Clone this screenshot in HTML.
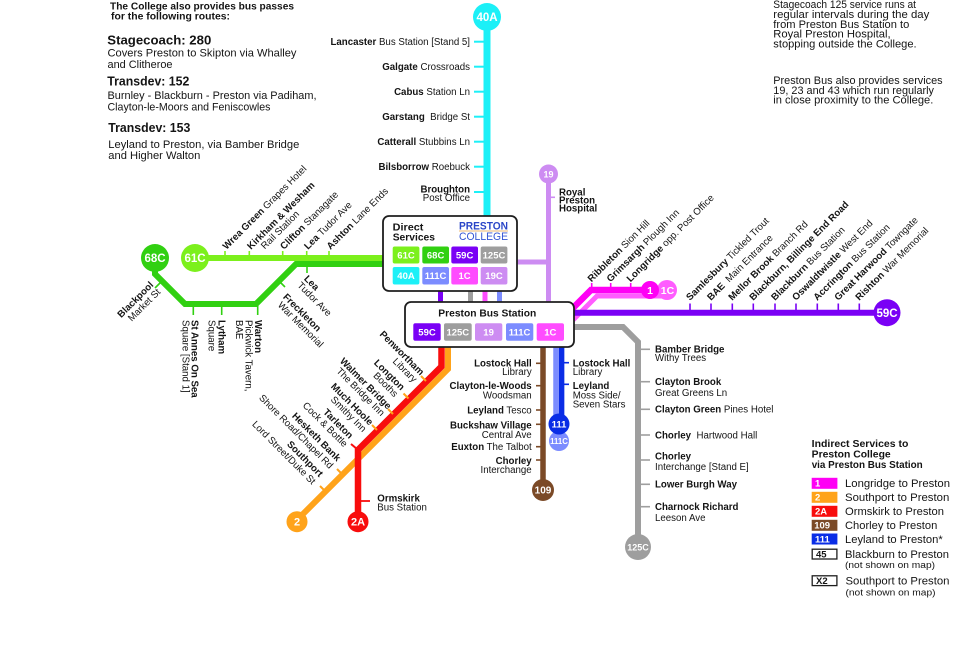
<!DOCTYPE html>
<html><head><meta charset="utf-8"><style>
html,body{margin:0;padding:0;background:#fff;}
svg{display:block;font-family:"Liberation Sans",Arial,sans-serif;}
.s{font-size:9.7px;fill:#141414;}
.b{font-weight:bold;}
.w{fill:#fff;font-weight:bold;text-anchor:middle;}
.e{text-anchor:end;}
</style></head><body>
<svg width="980" height="666" viewBox="0 0 980 666" xmlns="http://www.w3.org/2000/svg">
<rect width="980" height="666" fill="#fff"/>

<!-- Top-left text -->
<g fill="#141414">
<text x="110" y="9.6" font-size="10" font-weight="bold" textLength="184" lengthAdjust="spacingAndGlyphs">The College also provides bus passes</text>
<text x="111" y="19.6" font-size="10" font-weight="bold" textLength="119" lengthAdjust="spacingAndGlyphs">for the following routes:</text>
<text x="107.3" y="44.7" font-size="13" font-weight="bold" textLength="104" lengthAdjust="spacingAndGlyphs">Stagecoach: 280</text>
<text x="107.5" y="56.6" font-size="11" textLength="189" lengthAdjust="spacingAndGlyphs">Covers Preston to Skipton via Whalley</text>
<text x="107.5" y="68" font-size="11" textLength="65" lengthAdjust="spacingAndGlyphs">and Clitheroe</text>
<text x="107.3" y="85.4" font-size="13" font-weight="bold" textLength="82" lengthAdjust="spacingAndGlyphs">Transdev: 152</text>
<text x="107.5" y="99" font-size="11" textLength="209" lengthAdjust="spacingAndGlyphs">Burnley - Blackburn - Preston via Padiham,</text>
<text x="107.5" y="110.6" font-size="11" textLength="163" lengthAdjust="spacingAndGlyphs">Clayton-le-Moors and Feniscowles</text>
<text x="108.3" y="132" font-size="13" font-weight="bold" textLength="82" lengthAdjust="spacingAndGlyphs">Transdev: 153</text>
<text x="108.3" y="148" font-size="11" textLength="191" lengthAdjust="spacingAndGlyphs">Leyland to Preston, via Bamber Bridge</text>
<text x="108.3" y="159" font-size="11" textLength="92" lengthAdjust="spacingAndGlyphs">and Higher Walton</text>
</g>

<!-- Top-right text -->
<g fill="#141414" font-size="11">
<text x="773.3" y="8" textLength="142.7" lengthAdjust="spacingAndGlyphs">Stagecoach 125 service runs at</text>
<text x="773.3" y="18" textLength="156" lengthAdjust="spacingAndGlyphs">regular intervals during the day</text>
<text x="773.3" y="28" textLength="136" lengthAdjust="spacingAndGlyphs">from Preston Bus Station to</text>
<text x="773.3" y="37.3" textLength="117.3" lengthAdjust="spacingAndGlyphs">Royal Preston Hospital,</text>
<text x="773.3" y="47.3" textLength="143.3" lengthAdjust="spacingAndGlyphs">stopping outside the College.</text>
<text x="773.3" y="84" textLength="169.3" lengthAdjust="spacingAndGlyphs">Preston Bus also provides services</text>
<text x="773.3" y="94" textLength="160.7" lengthAdjust="spacingAndGlyphs">19, 23 and 43 which run regularly</text>
<text x="773.3" y="103.3" textLength="160" lengthAdjust="spacingAndGlyphs">in close proximity to the College.</text>
</g>

<!-- ===== LINES ===== -->
<!-- 40A cyan -->
<line x1="487" y1="17" x2="487" y2="218" stroke="#1cf0f7" stroke-width="7"/>
<g stroke="#1cf0f7" stroke-width="2">
<line x1="474" y1="41.7" x2="487" y2="41.7"/>
<line x1="474" y1="66.7" x2="487" y2="66.7"/>
<line x1="474" y1="91.7" x2="487" y2="91.7"/>
<line x1="474" y1="116.7" x2="487" y2="116.7"/>
<line x1="474" y1="141.7" x2="487" y2="141.7"/>
<line x1="474" y1="166.7" x2="487" y2="166.7"/>
<line x1="474" y1="192" x2="487" y2="192"/>
</g>

<!-- 61C light green -->
<line x1="195" y1="258" x2="386" y2="258" stroke="#7cf01c" stroke-width="6"/>
<g stroke="#7cf01c" stroke-width="1.6">
<line x1="225" y1="251" x2="225" y2="258"/>
<line x1="249.3" y1="251" x2="249.3" y2="258"/>
<line x1="282.7" y1="251" x2="282.7" y2="258"/>
<line x1="306.7" y1="251" x2="306.7" y2="258"/>
<line x1="329" y1="251" x2="329" y2="258"/>
</g>

<!-- 68C dark green -->
<path d="M155,258 L155,274 L185,304 L256,304 L296,264 L386,264" fill="none" stroke="#31d011" stroke-width="6"/>
<g stroke="#31d011" stroke-width="1.6">
<line x1="193.3" y1="304" x2="193.3" y2="315"/>
<line x1="221.7" y1="304" x2="221.7" y2="315"/>
<line x1="257.7" y1="304" x2="257.7" y2="315"/>
<line x1="307" y1="264" x2="307" y2="273"/>
<line x1="161" y1="282" x2="155" y2="288"/>
<line x1="280" y1="282" x2="285" y2="287"/>
</g>

<!-- connectors between boxes -->
<line x1="440.5" y1="288" x2="440.5" y2="304" stroke="#7a00f5" stroke-width="5"/>
<line x1="470.5" y1="288" x2="470.5" y2="304" stroke="#9e9e9e" stroke-width="5"/>
<line x1="485" y1="288" x2="485" y2="304" stroke="#ff4cff" stroke-width="5"/>
<line x1="499.5" y1="288" x2="499.5" y2="304" stroke="#7c8cff" stroke-width="5"/>

<!-- 19 lilac -->
<line x1="515" y1="262" x2="551" y2="262" stroke="#cd8cf2" stroke-width="5"/>
<line x1="548.5" y1="174" x2="548.5" y2="304" stroke="#cd8cf2" stroke-width="5"/>
<line x1="548.5" y1="197.3" x2="555" y2="197.3" stroke="#cd8cf2" stroke-width="1.6"/>

<!-- 1C pink and 1 magenta -->
<path d="M560,333 L597,296 L667,296" fill="none" stroke="#ff5cff" stroke-width="5"/>
<path d="M555,326 L591,290 L650,290" fill="none" stroke="#ff00f5" stroke-width="6.5"/>
<g stroke="#ff00f5" stroke-width="1.6">
<line x1="591.7" y1="283" x2="591.7" y2="290"/>
<line x1="610.7" y1="283" x2="610.7" y2="290"/>
<line x1="630.7" y1="283" x2="630.7" y2="290"/>
</g>

<!-- 59C violet -->
<line x1="560" y1="312.7" x2="887" y2="312.7" stroke="#7a00f5" stroke-width="6"/>
<g stroke="#7a00f5" stroke-width="1.6">
<line x1="690" y1="303.5" x2="690" y2="313"/>
<line x1="711" y1="303.5" x2="711" y2="313"/>
<line x1="732.3" y1="303.5" x2="732.3" y2="313"/>
<line x1="753.3" y1="303.5" x2="753.3" y2="313"/>
<line x1="775" y1="303.5" x2="775" y2="313"/>
<line x1="796" y1="303.5" x2="796" y2="313"/>
<line x1="817.3" y1="303.5" x2="817.3" y2="313"/>
<line x1="838.3" y1="303.5" x2="838.3" y2="313"/>
<line x1="859.3" y1="303.5" x2="859.3" y2="313"/>
</g>

<!-- 125C grey -->
<path d="M560,327 L623,327 L638,342 L638,547" fill="none" stroke="#9e9e9e" stroke-width="6"/>
<g stroke="#9e9e9e" stroke-width="1.6">
<line x1="638" y1="349.3" x2="650" y2="349.3"/>
<line x1="638" y1="381.7" x2="650" y2="381.7"/>
<line x1="638" y1="409.3" x2="650" y2="409.3"/>
<line x1="638" y1="435" x2="650" y2="435"/>
<line x1="638" y1="460" x2="650" y2="460"/>
<line x1="638" y1="484.3" x2="650" y2="484.3"/>
<line x1="638" y1="506.7" x2="650" y2="506.7"/>
</g>

<!-- 109 brown -->
<line x1="543" y1="340" x2="543" y2="490" stroke="#7b4a27" stroke-width="5.5"/>
<g stroke="#7b4a27" stroke-width="1.6">
<line x1="536" y1="363.3" x2="543" y2="363.3"/>
<line x1="536" y1="385.7" x2="543" y2="385.7"/>
<line x1="536" y1="410" x2="543" y2="410"/>
<line x1="536" y1="424.3" x2="543" y2="424.3"/>
<line x1="536" y1="446.7" x2="543" y2="446.7"/>
<line x1="536" y1="460" x2="543" y2="460"/>
</g>

<!-- 111C / 111 -->
<line x1="556" y1="340" x2="556" y2="441" stroke="#7c8cff" stroke-width="5.5"/>
<line x1="561.6" y1="340" x2="561.6" y2="424" stroke="#0a2de6" stroke-width="5.5"/>
<g stroke="#0a2de6" stroke-width="1.6">
<line x1="563" y1="362.7" x2="569" y2="362.7"/>
<line x1="563" y1="384.3" x2="569" y2="384.3"/>
</g>

<!-- 2 orange and 2A red -->
<path d="M448,340 L448,369 L297,520" fill="none" stroke="#ffa31a" stroke-width="6"/>
<path d="M441.5,340 L441.5,366.5 L358,450 L358,522" fill="none" stroke="#f80d0d" stroke-width="6.5"/>
<g stroke="#ffa31a" stroke-width="2">
<line x1="426" y1="381" x2="421" y2="376"/>
<line x1="408.5" y1="398.5" x2="403.5" y2="393.5"/>
<line x1="393" y1="414" x2="388" y2="409"/>
<line x1="377" y1="430" x2="372" y2="425"/>
<line x1="342" y1="474" x2="337" y2="469"/>
<line x1="325" y1="491" x2="320" y2="486"/>
</g>
<line x1="357" y1="449" x2="351" y2="444" stroke="#f80d0d" stroke-width="2"/>
<line x1="358" y1="501" x2="370" y2="501" stroke="#f80d0d" stroke-width="1.8"/>

<!-- ===== BOXES ===== -->
<rect x="383" y="216" width="134" height="75" rx="6" fill="#fff" stroke="#1e1e1e" stroke-width="1.8"/>
<text x="392.7" y="230.7" font-size="10.5" font-weight="bold" fill="#141414" textLength="30.7" lengthAdjust="spacingAndGlyphs">Direct</text>
<text x="392.7" y="240.3" font-size="10.5" font-weight="bold" fill="#141414" textLength="42.3" lengthAdjust="spacingAndGlyphs">Services</text>
<text x="459" y="229.3" font-size="10.6" font-weight="bold" fill="#2a46c8" textLength="49" lengthAdjust="spacingAndGlyphs">PRESTON</text>
<line x1="459" y1="231" x2="508" y2="231" stroke="#e8a040" stroke-width="0.8"/>
<text x="459" y="240" font-size="10.6" fill="#3556d4" textLength="49" lengthAdjust="spacingAndGlyphs">COLLEGE</text>

<g>
<rect x="392.7" y="246.5" width="26.7" height="17" rx="2" fill="#7cf01c"/>
<rect x="422.3" y="246.5" width="26.7" height="17" rx="2" fill="#31d011"/>
<rect x="451.3" y="246.5" width="26.7" height="17" rx="2" fill="#7a00f5"/>
<rect x="480.7" y="246.5" width="26.7" height="17" rx="2" fill="#9e9e9e"/>
<rect x="392.7" y="267" width="26.7" height="17.5" rx="2" fill="#1cf0f7"/>
<rect x="422.3" y="267" width="26.7" height="17.5" rx="2" fill="#7c8cff"/>
<rect x="451.3" y="267" width="26.7" height="17.5" rx="2" fill="#ff4cff"/>
<rect x="480.7" y="267" width="26.7" height="17.5" rx="2" fill="#cd8cf2"/>
</g>
<g font-size="9.5" class="w">
<text x="406" y="258.4" class="w">61C</text>
<text x="435.6" y="258.4" class="w">68C</text>
<text x="464.6" y="258.4" class="w">59C</text>
<text x="494" y="258.4" class="w">125C</text>
<text x="406" y="279.2" class="w">40A</text>
<text x="435.6" y="279.2" class="w">111C</text>
<text x="464.6" y="279.2" class="w">1C</text>
<text x="494" y="279.2" class="w">19C</text>
</g>

<rect x="405" y="302" width="169" height="45" rx="6" fill="#fff" stroke="#1e1e1e" stroke-width="1.8"/>
<text x="487.3" y="316.5" font-size="10.5" font-weight="bold" fill="#141414" text-anchor="middle" textLength="98" lengthAdjust="spacingAndGlyphs">Preston Bus Station</text>
<rect x="413.3" y="323.3" width="27.4" height="17.4" rx="2" fill="#7a00f5"/>
<rect x="444" y="323.3" width="27.7" height="17.4" rx="2" fill="#9e9e9e"/>
<rect x="475" y="323.3" width="27.3" height="17.4" rx="2" fill="#cd8cf2"/>
<rect x="506" y="323.3" width="27.3" height="17.4" rx="2" fill="#7c8cff"/>
<rect x="536.7" y="323.3" width="27.3" height="17.4" rx="2" fill="#ff4cff"/>
<g font-size="9.5">
<text x="427" y="335.4" class="w">59C</text>
<text x="457.8" y="335.4" class="w">125C</text>
<text x="488.6" y="335.4" class="w">19</text>
<text x="519.6" y="335.4" class="w">111C</text>
<text x="550.3" y="335.4" class="w">1C</text>
</g>

<!-- ===== CIRCLES ===== -->
<circle cx="487" cy="17" r="14" fill="#1cf0f7"/>
<text x="487" y="21" font-size="11.5" class="w">40A</text>
<circle cx="155" cy="258" r="14" fill="#31d011"/>
<text x="155" y="262" font-size="11.5" class="w">68C</text>
<circle cx="195" cy="258" r="14" fill="#7cf01c"/>
<text x="195" y="262" font-size="11.5" class="w">61C</text>
<circle cx="548.5" cy="174" r="9.5" fill="#cd8cf2"/>
<text x="548.5" y="177.3" font-size="9" class="w">19</text>
<circle cx="667" cy="290" r="10" fill="#ff5cff"/>
<text x="667.5" y="293.8" font-size="10.5" class="w">1C</text>
<circle cx="650" cy="290" r="9" fill="#ff00f5"/>
<text x="650" y="293.8" font-size="10.5" class="w">1</text>
<circle cx="887" cy="312.7" r="13.5" fill="#7a00f5"/>
<text x="887" y="316.8" font-size="11.5" class="w">59C</text>
<circle cx="638" cy="547" r="13" fill="#9e9e9e"/>
<text x="638" y="550.3" font-size="9" class="w">125C</text>
<circle cx="543" cy="490" r="11" fill="#7b4a27"/>
<text x="543" y="493.5" font-size="10" class="w">109</text>
<circle cx="559" cy="441" r="10" fill="#7c8cff"/>
<text x="559" y="443.8" font-size="7.8" class="w">111C</text>
<circle cx="559" cy="424" r="10.5" fill="#0a2de6"/>
<text x="559" y="427.3" font-size="9.5" class="w">111</text>
<circle cx="297" cy="521.7" r="10.5" fill="#ffa31a"/>
<text x="297" y="525.6" font-size="11" class="w">2</text>
<circle cx="358" cy="521.7" r="10.5" fill="#f80d0d"/>
<text x="358" y="525.6" font-size="11" class="w">2A</text>

<!-- ===== LABELS ===== -->
<!-- 40A -->
<g class="s">
<text x="470" y="45.1" class="s e"><tspan class="b">Lancaster</tspan> Bus Station [Stand 5]</text>
<text x="470" y="70.1" class="s e"><tspan class="b">Galgate</tspan> Crossroads</text>
<text x="470" y="95.1" class="s e"><tspan class="b">Cabus</tspan> Station Ln</text>
<text x="470" y="120.1" class="s e"><tspan class="b">Garstang</tspan>&#160; Bridge St</text>
<text x="470" y="145.1" class="s e"><tspan class="b">Catterall</tspan> Stubbins Ln</text>
<text x="470" y="170.1" class="s e"><tspan class="b">Bilsborrow</tspan> Roebuck</text>
<text x="470" y="192.4" class="s e b">Broughton</text>
<text x="470" y="201.1" class="s e">Post Office</text>
</g>

<!-- Royal Preston Hospital -->
<text x="559" y="195.3" class="s b">Royal</text>
<text x="559" y="203.5" class="s b">Preston</text>
<text x="559" y="211.7" class="s b">Hospital</text>

<!-- left top rotated -45 -->
<text class="s" transform="translate(226.5,250) rotate(-45)"><tspan class="b">Wrea Green</tspan> Grapes Hotel</text>
<text class="s" transform="translate(251,250) rotate(-45)"><tspan class="b">Kirkham &amp; Wesham</tspan><tspan x="10" y="9.5">Rail Station</tspan></text>
<text class="s" transform="translate(284,250) rotate(-45)"><tspan class="b">Clifton</tspan> Stanagate</text>
<text class="s" transform="translate(308,250) rotate(-45)"><tspan class="b">Lea</tspan> Tudor Ave</text>
<text class="s" transform="translate(330.5,250) rotate(-45)"><tspan class="b">Ashton</tspan> Lane Ends</text>

<!-- Blackpool -->
<text class="s e" transform="translate(154,285.5) rotate(-45)"><tspan class="b">Blackpool</tspan><tspan x="0" y="10">Market St</tspan></text>

<!-- bottom rotated 90 -->
<text class="s" transform="translate(191.6,320) rotate(90)"><tspan class="b">St Annes On Sea</tspan><tspan x="0" y="9">Square [Stand 1]</tspan></text>
<text class="s" transform="translate(218.3,320) rotate(90)"><tspan class="b">Lytham</tspan><tspan x="0" y="10">Square</tspan></text>
<text class="s" transform="translate(255,320) rotate(90)"><tspan class="b">Warton</tspan><tspan x="0" y="9.5">Pickwick Tavern,</tspan><tspan x="0" y="19">BAE</tspan></text>

<!-- Freckleton, Lea below -->
<text class="s" transform="translate(282.5,297.5) rotate(45)"><tspan class="b">Freckleton</tspan><tspan x="2" y="9.5">War Memorial</tspan></text>
<text class="s" transform="translate(303.5,279.2) rotate(45)"><tspan class="b">Lea</tspan><tspan x="0" y="9.5">Tudor Ave</tspan></text>

<!-- orange/red rotated 45 end-anchored -->
<text class="s e" transform="translate(420.2,375.8) rotate(45)"><tspan class="b">Penwortham</tspan><tspan x="0" y="10">Library</tspan></text>
<text class="s e" transform="translate(400.8,390.8) rotate(45)"><tspan class="b">Longton</tspan><tspan x="0" y="9.5">Booths</tspan></text>
<text class="s e" transform="translate(387.5,409.8) rotate(45)"><tspan class="b">Walmer Bridge</tspan><tspan x="0" y="9.5">The Bridge Inn</tspan></text>
<text class="s e" transform="translate(369.2,425.8) rotate(45)"><tspan class="b">Much Hoole</tspan><tspan x="0" y="9.5">Smithy Inn</tspan></text>
<text class="s e" transform="translate(349.2,439.2) rotate(45)"><tspan class="b">Tarleton</tspan><tspan x="2" y="9.8">Cock &amp; Bottle</tspan></text>
<text class="s e" transform="translate(336.8,461.8) rotate(45)"><tspan class="b">Hesketh Bank</tspan><tspan x="0" y="10.5">Shore Road/Chapel Rd</tspan></text>
<text class="s e" transform="translate(319.2,477.5) rotate(45)"><tspan class="b">Southport</tspan><tspan x="0" y="10.5">Lord Street/Duke St</tspan></text>

<!-- Ormskirk -->
<text x="377.3" y="501.6" class="s b">Ormskirk</text>
<text x="377.3" y="510.6" class="s">Bus Station</text>

<!-- 1 / 1C labels -->
<text class="s" transform="translate(591.5,282.5) rotate(-45)"><tspan class="b">Ribbleton</tspan> Sion Hill</text>
<text class="s" transform="translate(610.5,282.5) rotate(-45)"><tspan class="b">Grimsargh</tspan> Plough Inn</text>
<text class="s" transform="translate(630.5,282.5) rotate(-45)"><tspan class="b">Longridge</tspan> opp. Post Office</text>

<!-- 59C labels -->
<text class="s" transform="translate(690,301) rotate(-45)"><tspan class="b">Samlesbury</tspan> Tickled Trout</text>
<text class="s" transform="translate(711,301) rotate(-45)"><tspan class="b">BAE</tspan>&#160; Main Entrance</text>
<text class="s" transform="translate(732.3,301) rotate(-45)"><tspan class="b">Mellor Brook</tspan> Branch Rd</text>
<text class="s b" transform="translate(753.3,301) rotate(-45)">Blackburn, Billinge End Road</text>
<text class="s" transform="translate(775,301) rotate(-45)"><tspan class="b">Blackburn</tspan> Bus Station</text>
<text class="s" transform="translate(796,301) rotate(-45)"><tspan class="b">Oswaldtwistle</tspan> West End</text>
<text class="s" transform="translate(817.3,301) rotate(-45)"><tspan class="b">Accrington</tspan> Bus Station</text>
<text class="s" transform="translate(838.3,301) rotate(-45)"><tspan class="b">Great Harwood</tspan> Towngate</text>
<text class="s" transform="translate(859.3,301) rotate(-45)"><tspan class="b">Rishton</tspan> War Memorial</text>

<!-- 109 labels -->
<text x="531.7" y="366.3" class="s e b">Lostock Hall</text>
<text x="531.7" y="375.2" class="s e">Library</text>
<text x="531.7" y="389" class="s e b">Clayton-le-Woods</text>
<text x="531.7" y="398.6" class="s e">Woodsman</text>
<text x="531.7" y="413.4" class="s e"><tspan class="b">Leyland</tspan> Tesco</text>
<text x="531.7" y="428.4" class="s e b">Buckshaw Village</text>
<text x="531.7" y="438" class="s e">Central Ave</text>
<text x="531.7" y="450.1" class="s e"><tspan class="b">Euxton</tspan> The Talbot</text>
<text x="531.7" y="464.1" class="s e b">Chorley</text>
<text x="531.7" y="473.1" class="s e">Interchange</text>

<!-- 111 labels -->
<text x="572.7" y="366.3" class="s b">Lostock Hall</text>
<text x="572.7" y="375.2" class="s">Library</text>
<text x="572.7" y="389" class="s b">Leyland</text>
<text x="572.7" y="398.4" class="s">Moss Side/</text>
<text x="572.7" y="407.4" class="s">Seven Stars</text>

<!-- 125C labels -->
<text x="655" y="352.7" class="s b">Bamber Bridge</text>
<text x="655" y="361.1" class="s">Withy Trees</text>
<text x="655" y="385.1" class="s b">Clayton Brook</text>
<text x="655" y="396.1" class="s">Great Greens Ln</text>
<text x="655" y="412.7" class="s"><tspan class="b">Clayton Green</tspan> Pines Hotel</text>
<text x="655" y="438.4" class="s"><tspan class="b">Chorley</tspan>&#160; Hartwood Hall</text>
<text x="655" y="459.4" class="s b">Chorley</text>
<text x="655" y="470.1" class="s">Interchange [Stand E]</text>
<text x="655" y="487.7" class="s b">Lower Burgh Way</text>
<text x="655" y="510.1" class="s b">Charnock Richard</text>
<text x="655" y="521.1" class="s">Leeson Ave</text>

<!-- ===== LEGEND ===== -->
<g fill="#141414">
<text x="811.7" y="447" font-size="10" font-weight="bold" textLength="96.7" lengthAdjust="spacingAndGlyphs">Indirect Services to</text>
<text x="811.7" y="457.6" font-size="10" font-weight="bold" textLength="79" lengthAdjust="spacingAndGlyphs">Preston College</text>
<text x="811.7" y="468" font-size="10" font-weight="bold" textLength="111" lengthAdjust="spacingAndGlyphs">via Preston Bus Station</text>
</g>
<rect x="811.7" y="477.8" width="25.7" height="11" fill="#ff00f5"/>
<rect x="811.7" y="491.8" width="25.7" height="11" fill="#ffa31a"/>
<rect x="811.7" y="505.8" width="25.7" height="11" fill="#f80d0d"/>
<rect x="811.7" y="519.8" width="25.7" height="11" fill="#7b4a27"/>
<rect x="811.7" y="533.5" width="25.7" height="11" fill="#0a2de6"/>
<rect x="812.2" y="549.2" width="24.7" height="9.8" fill="#fff" stroke="#1e1e1e" stroke-width="1.3"/>
<rect x="812.2" y="575.8" width="24.7" height="9.8" fill="#fff" stroke="#1e1e1e" stroke-width="1.3"/>
<g font-size="9.5" font-weight="bold" fill="#fff">
<text x="815" y="486.7">1</text>
<text x="815" y="500.7">2</text>
<text x="815" y="514.7">2A</text>
<text x="814.2" y="528.7">109</text>
<text x="815" y="542.4">111</text>
</g>
<g font-size="9.5" font-weight="bold" fill="#141414">
<text x="816" y="557.4">45</text>
<text x="816" y="584.1">X2</text>
</g>
<g fill="#141414" font-size="11">
<text x="845" y="487.2" textLength="105" lengthAdjust="spacingAndGlyphs">Longridge to Preston</text>
<text x="845" y="501.2" textLength="104.3" lengthAdjust="spacingAndGlyphs">Southport to Preston</text>
<text x="845" y="515.2" textLength="99" lengthAdjust="spacingAndGlyphs">Ormskirk to Preston</text>
<text x="845" y="529.2" textLength="92.3" lengthAdjust="spacingAndGlyphs">Chorley to Preston</text>
<text x="845" y="542.9" textLength="97.7" lengthAdjust="spacingAndGlyphs">Leyland to Preston*</text>
<text x="845" y="557.9" textLength="104" lengthAdjust="spacingAndGlyphs">Blackburn to Preston</text>
<text x="845.5" y="584.6" textLength="104" lengthAdjust="spacingAndGlyphs">Southport to Preston</text>
</g>
<g fill="#141414" font-size="8.8">
<text x="845" y="568.2" textLength="90" lengthAdjust="spacingAndGlyphs">(not shown on map)</text>
<text x="845.5" y="595.4" textLength="90" lengthAdjust="spacingAndGlyphs">(not shown on map)</text>
</g>
</svg>
</body></html>
